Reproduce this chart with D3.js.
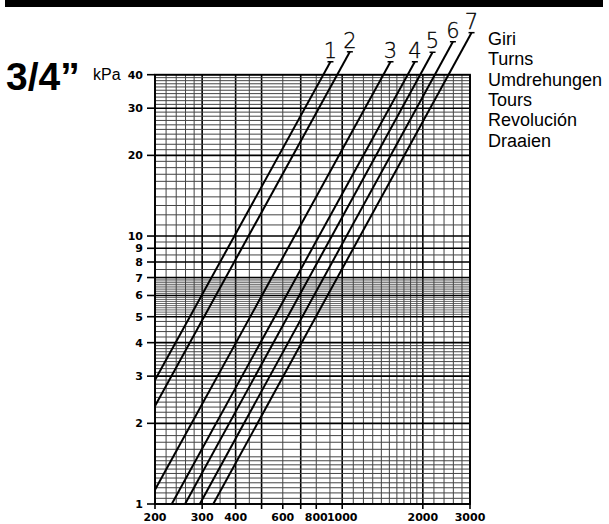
<!DOCTYPE html>
<html>
<head>
<meta charset="utf-8">
<script src="https://cdn.jsdelivr.net/npm/d3@7"></script>
<style>
  body { margin: 0; background: #fff; }
  svg { display: block; }
</style>
</head>
<body>
<script>
// chart data
const turnLabels = ['1', '2', '3', '4', '5', '6', '7'];
// start of each line (flow l/h, kPa) and end of its leader under the label
const startFlow = [200, 200, 200, 231, 259, 294, 330];
const startKpa = [2.90, 2.32, 1.13, 1, 1, 1, 1];
const endFlow = [904, 1068, 1515, 1867, 2174, 2590, 3040];
const endKpa = [44.7, 48.7, 44.7, 44.7, 48.5, 53.1, 57.4];

const xTickLabels = [200, 300, 400, 600, 800, 1000, 2000, 3000];
const xTickMarks = [200, 300, 400, 500, 600, 700, 800, 1000, 2000, 3000];
const yTickLabels = [1, 2, 3, 4, 5, 6, 7, 8, 9, 10, 20, 30, 40];
const legendLines = ['Giri', 'Turns', 'Umdrehungen', 'Tours', 'Revolución', 'Draaien'];

// set up constants
const width = 609;
const height = 524;
const plot = { left: 155, right: 470, top: 74.7, bottom: 504 };

function steps(a, b, s) {
  const out = [];
  for (let v = a; v < b - s / 10; v += s) out.push(+v.toFixed(3));
  return out;
}

// grid spacing of the printed chart paper
const gridFlow = [].concat(
  steps(200, 300, 20), steps(300, 500, 50), steps(500, 2000, 100), steps(2000, 3000, 200), [3000]
);
const gridKpa = [].concat(
  steps(1, 1.5, 0.05), steps(1.5, 2, 0.1), steps(2, 4, 0.1), steps(4, 5, 0.2), steps(5, 7, 0.1),
  steps(7, 10, 0.5), steps(10, 40, 1), [40]
);
const heavyFlow = [200, 300, 400, 500, 700, 1000, 2000, 3000];

const svg = d3.select('body').append('svg')
  .attr('width', width)
  .attr('height', height);

// create scales
const xScale = d3.scaleLog()
  .domain([200, 3000])
  .range([plot.left, plot.right]);

const yScale = d3.scaleLog()
  .domain([1, 40])
  .range([plot.bottom, plot.top]);

// top black bar
svg.append('rect')
  .attr('x', 5)
  .attr('y', 0)
  .attr('width', 598)
  .attr('height', 7)
  .attr('fill', '#000');

// title
svg.append('text')
  .attr('x', 6)
  .attr('y', 90)
  .attr('font-family', 'Liberation Sans, Arial, sans-serif')
  .attr('font-weight', 'bold')
  .attr('font-size', 39)
  .text('3/4\u201D');

svg.append('text')
  .attr('x', 93)
  .attr('y', 80)
  .attr('font-family', 'Liberation Sans, Arial, sans-serif')
  .attr('font-size', 16)
  .text('kPa');

// grid
const grid = svg.append('g');

grid.selectAll('.vgrid')
  .data(gridFlow)
  .enter()
  .append('line')
  .attr('x1', d => xScale(d))
  .attr('x2', d => xScale(d))
  .attr('y1', plot.top)
  .attr('y2', plot.bottom)
  .attr('stroke', d => heavyFlow.includes(d) ? '#000' : '#444')
  .attr('stroke-width', d => heavyFlow.includes(d) ? 1.6 : 1);

grid.selectAll('.hgrid')
  .data(gridKpa)
  .enter()
  .append('line')
  .attr('x1', plot.left)
  .attr('x2', plot.right)
  .attr('y1', d => yScale(d))
  .attr('y2', d => yScale(d))
  .attr('stroke', d => yTickLabels.includes(d) ? '#000' : '#444')
  .attr('stroke-width', d => yTickLabels.includes(d) ? 1.6 : (d > 5 && d < 7 ? 0.8 : 1));

// frame
svg.append('rect')
  .attr('x', plot.left)
  .attr('y', plot.top)
  .attr('width', plot.right - plot.left)
  .attr('height', plot.bottom - plot.top)
  .attr('fill', 'none')
  .attr('stroke', '#000')
  .attr('stroke-width', 1.8);

// y axis ticks and labels
const yAxis = svg.append('g');
yAxis.selectAll('line')
  .data(yTickLabels)
  .enter()
  .append('line')
  .attr('x1', plot.left - 8)
  .attr('x2', plot.left)
  .attr('y1', d => yScale(d))
  .attr('y2', d => yScale(d))
  .attr('stroke', '#000')
  .attr('stroke-width', 1.6);

yAxis.selectAll('text')
  .data(yTickLabels)
  .enter()
  .append('text')
  .attr('x', plot.left - 12)
  .attr('y', d => yScale(d) + 4)
  .attr('text-anchor', 'end')
  .attr('font-family', 'DejaVu Sans, sans-serif')
  .attr('font-weight', 'bold')
  .attr('font-size', 11)
  .text(d => d);

// x axis ticks and labels
const xAxis = svg.append('g');
xAxis.selectAll('line')
  .data(xTickMarks)
  .enter()
  .append('line')
  .attr('x1', d => xScale(d))
  .attr('x2', d => xScale(d))
  .attr('y1', plot.bottom)
  .attr('y2', plot.bottom + 5)
  .attr('stroke', '#000')
  .attr('stroke-width', 1.6);

xAxis.selectAll('text')
  .data(xTickLabels)
  .enter()
  .append('text')
  .attr('x', d => xScale(d))
  .attr('y', plot.bottom + 17)
  .attr('text-anchor', 'middle')
  .attr('font-family', 'DejaVu Sans, sans-serif')
  .attr('font-weight', 'bold')
  .attr('font-size', 11)
  .text(d => d);

// turn lines
const lines = turnLabels.map((t, i) => ({
  label: t,
  points: [
    { q: startFlow[i], p: startKpa[i] },
    { q: endFlow[i], p: endKpa[i] }
  ]
}));

const line = d3.line()
  .x(d => xScale(d.q))
  .y(d => yScale(d.p));

const turns = svg.append('g');

turns.selectAll('path')
  .data(lines)
  .enter()
  .append('path')
  .attr('d', d => line(d.points))
  .attr('fill', 'none')
  .attr('stroke', '#000')
  .attr('stroke-width', 2);

// small serif under each number
turns.selectAll('.serif')
  .data(lines)
  .enter()
  .append('line')
  .attr('x1', d => xScale(d.points[1].q) - 3)
  .attr('x2', d => xScale(d.points[1].q) + 3)
  .attr('y1', d => yScale(d.points[1].p))
  .attr('y2', d => yScale(d.points[1].p))
  .attr('stroke', '#000')
  .attr('stroke-width', 1.5);

turns.selectAll('text')
  .data(lines)
  .enter()
  .append('text')
  .attr('x', d => xScale(d.points[1].q))
  .attr('y', d => yScale(d.points[1].p) - 4)
  .attr('text-anchor', 'middle')
  .attr('font-family', 'DejaVu Sans, sans-serif')
  .attr('font-weight', 200)
  .attr('font-size', 21)
  .attr('fill', '#000')
  .attr('stroke', '#000')
  .attr('stroke-width', 0.3)
  .text(d => d.label);

// legend words
svg.append('g')
  .selectAll('text')
  .data(legendLines)
  .enter()
  .append('text')
  .attr('x', 488)
  .attr('y', (d, i) => 45 + i * 20.3)
  .attr('font-family', 'Liberation Sans, Arial, sans-serif')
  .attr('font-size', 18)
  .text(d => d);
</script>
</body>
</html>
